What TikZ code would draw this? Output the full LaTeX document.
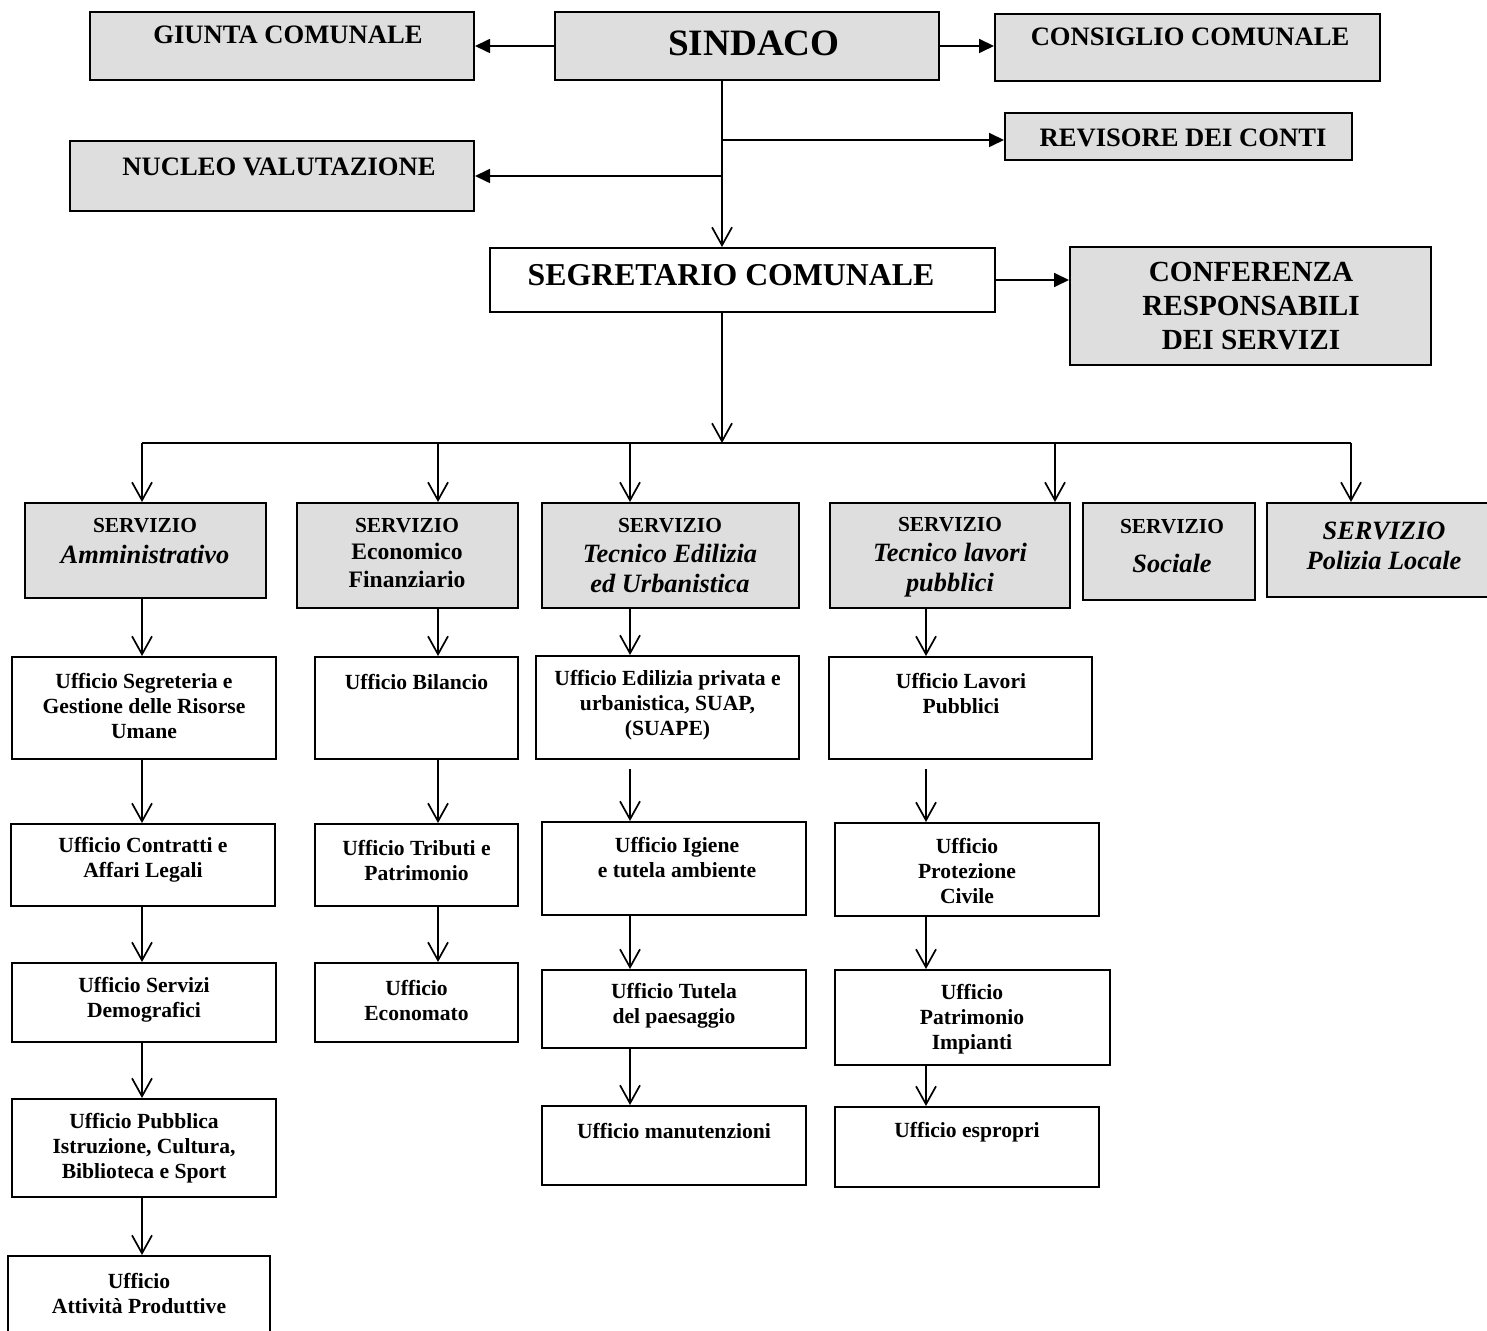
\documentclass[tikz,border=0pt]{standalone}
\usepackage{fontspec}
\setmainfont{Liberation Serif}
\usetikzlibrary{arrows.meta}
\definecolor{boxgray}{RGB}{222,222,222}
\newcommand{\itbig}{\fontsize{13.2}{15}\selectfont\itshape}
\tikzset{
  block/.style={rectangle, draw, line width=1pt, fill=boxgray},
  wblock/.style={rectangle, draw, line width=1pt, fill=white},
  txt/.style={align=center, inner sep=0pt, font=\bfseries\fontsize{13.3}{16}\selectfont},
  small/.style={align=center, inner sep=0pt, font=\bfseries\fontsize{10.8}{12.5}\selectfont},
  arrow/.style={-{Triangle[length=7.5pt, width=7pt]}, line width=0.85pt},
  varrow/.style={-{Straight Barb[length=9pt, width=10pt]}, line width=0.85pt}
}

\begin{document}
\begin{tikzpicture}[x=0.5pt, y=-0.5pt]
  \useasboundingbox (0,0) rectangle (1487,1331);
  % Guide coordinates
  \coordinate (spine) at (722,0);
  \coordinate (bus) at (0,443);
  \coordinate (colA) at (142,0);
  \coordinate (colB) at (438,0);
  \coordinate (colC) at (630,0);
  \coordinate (colD) at (926,0);
  \coordinate (colE) at (1055,0);
  \coordinate (colF) at (1351,0);

  % Top level
  \node[block, minimum width=192pt, minimum height=34pt] (giunta) at (282,46) {};
  \node[block, minimum width=192pt, minimum height=34pt] (sindaco) at (747,46) {};
  \node[block, minimum width=192.5pt, minimum height=33.5pt] (consiglio) at (1187.5,47.5) {};
  \node[block, minimum width=173.5pt, minimum height=23.5pt] (revisore) at (1178.5,136.5) {};
  \node[block, minimum width=202pt, minimum height=35pt] (nucleo) at (272,176) {};
  \node[wblock, minimum width=252.5pt, minimum height=32pt] (segretario) at (742.5,280) {};
  \node[block, minimum width=180.5pt, minimum height=59pt] (conferenza) at (1250.5,306) {};

  \node[txt] (giuntaT) at (288,35) {GIUNTA COMUNALE};
  \node[txt, font=\bfseries\fontsize{18.6}{20}\selectfont] (sindacoT) at (754,43) {SINDACO};
  \node[txt] (consiglioT) at (1190,37) {CONSIGLIO COMUNALE};
  \node[txt] (revisoreT) at (1183,138) {REVISORE DEI CONTI};
  \node[txt] (nucleoT) at (279,167) {NUCLEO VALUTAZIONE};
  \node[txt, font=\bfseries\fontsize{15.9}{18}\selectfont] (segretarioT) at (731,275) {SEGRETARIO COMUNALE};
  \node[txt, font=\bfseries\fontsize{14.6}{17}\selectfont] (conferenzaT) at (1251,306) {CONFERENZA\\RESPONSABILI\\DEI SERVIZI};

  % Servizi
  \node[block, minimum width=120.5pt, minimum height=47.5pt] (amm) at (145.5,550.5) {};
  \node[block, minimum width=110.5pt, minimum height=52.5pt] (eco) at (407.5,555.5) {};
  \node[block, minimum width=128.5pt, minimum height=52.5pt] (tecEd) at (670.5,555.5) {};
  \node[block, minimum width=120pt, minimum height=52.5pt] (tecLav) at (950,555.5) {};
  \node[block, minimum width=86pt, minimum height=48.5pt] (soc) at (1169,551.5) {};
  \node[block, minimum width=110.5pt, minimum height=47pt] (pol) at (1377,550) {};

  \node[txt, font=\bfseries\fontsize{10.7}{15.5}\selectfont] (ammT) at (145,541) {SERVIZIO\\{\itbig Amministrativo}};
  \node[txt, font=\bfseries\fontsize{11.8}{13.75}\selectfont] (ecoT) at (407,553) {{\fontsize{10.7}{13.75}\selectfont SERVIZIO}\\Economico\\Finanziario};
  \node[txt, font=\bfseries\fontsize{10.7}{15}\selectfont] (tecEdT) at (670,556) {SERVIZIO\\{\itbig Tecnico Edilizia}\\{\itbig ed Urbanistica}};
  \node[txt, font=\bfseries\fontsize{10.7}{15}\selectfont] (tecLavT) at (950,557) {SERVIZIO\\{\itbig Tecnico lavori}\\{\itbig pubblici}};
  \node[txt, font=\bfseries\fontsize{10.7}{19.5}\selectfont] (socT) at (1172,546) {SERVIZIO\\{\itbig Sociale}};
  \node[txt, font=\bfseries\itshape\fontsize{13.2}{15}\selectfont] (polT) at (1384,546) {SERVIZIO\\Polizia Locale};

  % Uffici, colonna A
  \node[wblock, minimum width=132pt, minimum height=51pt] (segr) at (144,708) {};
  \node[wblock, minimum width=132pt, minimum height=41pt] (contr) at (143,865) {};
  \node[wblock, minimum width=132pt, minimum height=39.5pt] (demo) at (144,1002.5) {};
  \node[wblock, minimum width=132pt, minimum height=49pt] (pubbl) at (144,1148) {};
  \node[wblock, minimum width=131pt, minimum height=42pt] (attiv) at (139,1298) {};
  \node[small] (segrT) at (144,706) {Ufficio Segreteria e\\Gestione delle Risorse\\Umane};
  \node[small] (contrT) at (143,860) {Ufficio Contratti e\\Affari Legali};
  \node[small] (demoT) at (144,1000) {Ufficio Servizi\\Demografici};
  \node[small] (pubblT) at (144,1148) {Ufficio Pubblica\\Istruzione, Cultura,\\Biblioteca e Sport};
  \node[small] (attivT) at (139,1294) {Ufficio\\Attività Produttive};

  % Uffici, colonna B
  \node[wblock, minimum width=101.5pt, minimum height=51pt] (bil) at (416.5,708) {};
  \node[wblock, minimum width=101.5pt, minimum height=41pt] (trib) at (416.5,865) {};
  \node[wblock, minimum width=101.5pt, minimum height=39.5pt] (econ) at (416.5,1002.5) {};
  \node[small] (bilT) at (416.5,682) {Ufficio Bilancio};
  \node[small] (tribT) at (416.5,860) {Ufficio Tributi e\\Patrimonio};
  \node[small] (econT) at (416.5,1000) {Ufficio\\Economato};

  % Uffici, colonna C
  \node[wblock, minimum width=131.5pt, minimum height=51.5pt] (edil) at (667.5,707.5) {};
  \node[wblock, minimum width=132pt, minimum height=46.5pt] (igie) at (674,868.5) {};
  \node[wblock, minimum width=132pt, minimum height=39pt] (tutela) at (674,1009) {};
  \node[wblock, minimum width=132pt, minimum height=39.5pt] (manut) at (674,1145.5) {};
  \node[small] (edilT) at (667.5,705) {Ufficio Edilizia privata e\\urbanistica, SUAP,\\(SUAPE)};
  \node[small] (igieT) at (677,858) {Ufficio Igiene\\e tutela ambiente};
  \node[small] (tutelaT) at (674,1006) {Ufficio Tutela\\del paesaggio};
  \node[small] (manutT) at (674,1131) {Ufficio manutenzioni};

  % Uffici, colonna D
  \node[wblock, minimum width=131.5pt, minimum height=51pt] (lavori) at (960.5,708) {};
  \node[wblock, minimum width=132pt, minimum height=46.5pt] (prot) at (967,869.5) {};
  \node[wblock, minimum width=137.5pt, minimum height=47.5pt] (patr) at (972.5,1017.5) {};
  \node[wblock, minimum width=132pt, minimum height=40pt] (espr) at (967,1147) {};
  \node[small] (lavoriT) at (961,694) {Ufficio Lavori\\Pubblici};
  \node[small] (protT) at (967,871) {Ufficio\\Protezione\\Civile};
  \node[small] (patrT) at (972,1019) {Ufficio\\Patrimonio\\Impianti};
  \node[small] (esprT) at (967,1132) {Ufficio espropri};

  % Connections, top
  \draw[arrow] (sindaco.west) -- (giunta.east);
  \draw[arrow] (sindaco.east) -- (sindaco.east -| consiglio.west);
  \draw[varrow] (sindaco.south -| spine) -- (segretario.north -| spine);
  \draw[arrow] ([yshift=-1.75pt]revisore.west -| spine) -- ([yshift=-1.75pt]revisore.west);
  \draw[arrow] (spine |- nucleo.east) -- (nucleo.east);
  \draw[arrow] (segretario.east) -- (segretario.east -| conferenza.west);
  \draw[varrow] (segretario.south -| spine) -- (spine |- bus);

  % Connections, servizi
  \draw[line width=0.85pt] (bus -| colA) -- (bus -| colF);
  \foreach \c/\s in {colA/amm, colB/eco, colC/tecEd, colE/tecLav, colF/pol}
    \draw[varrow] (bus -| \c) -- (\s.north -| \c);

  % Connections, uffici
  \foreach \a/\b in {amm/segr, segr/contr, contr/demo, demo/pubbl, pubbl/attiv}
    \draw[varrow] (\a.south -| colA) -- (\b.north -| colA);
  \foreach \a/\b in {eco/bil, bil/trib, trib/econ}
    \draw[varrow] (\a.south -| colB) -- (\b.north -| colB);
  \foreach \a/\b in {tecEd/edil, igie/tutela, tutela/manut}
    \draw[varrow] (\a.south -| colC) -- (\b.north -| colC);
  \draw[varrow, shorten <=4.5pt] (edil.south -| colC) -- (igie.north -| colC);
  \foreach \a/\b in {tecLav/lavori, prot/patr, patr/espr}
    \draw[varrow] (\a.south -| colD) -- (\b.north -| colD);
  \draw[varrow, shorten <=4.5pt] (lavori.south -| colD) -- (prot.north -| colD);
\end{tikzpicture}
\end{document}
